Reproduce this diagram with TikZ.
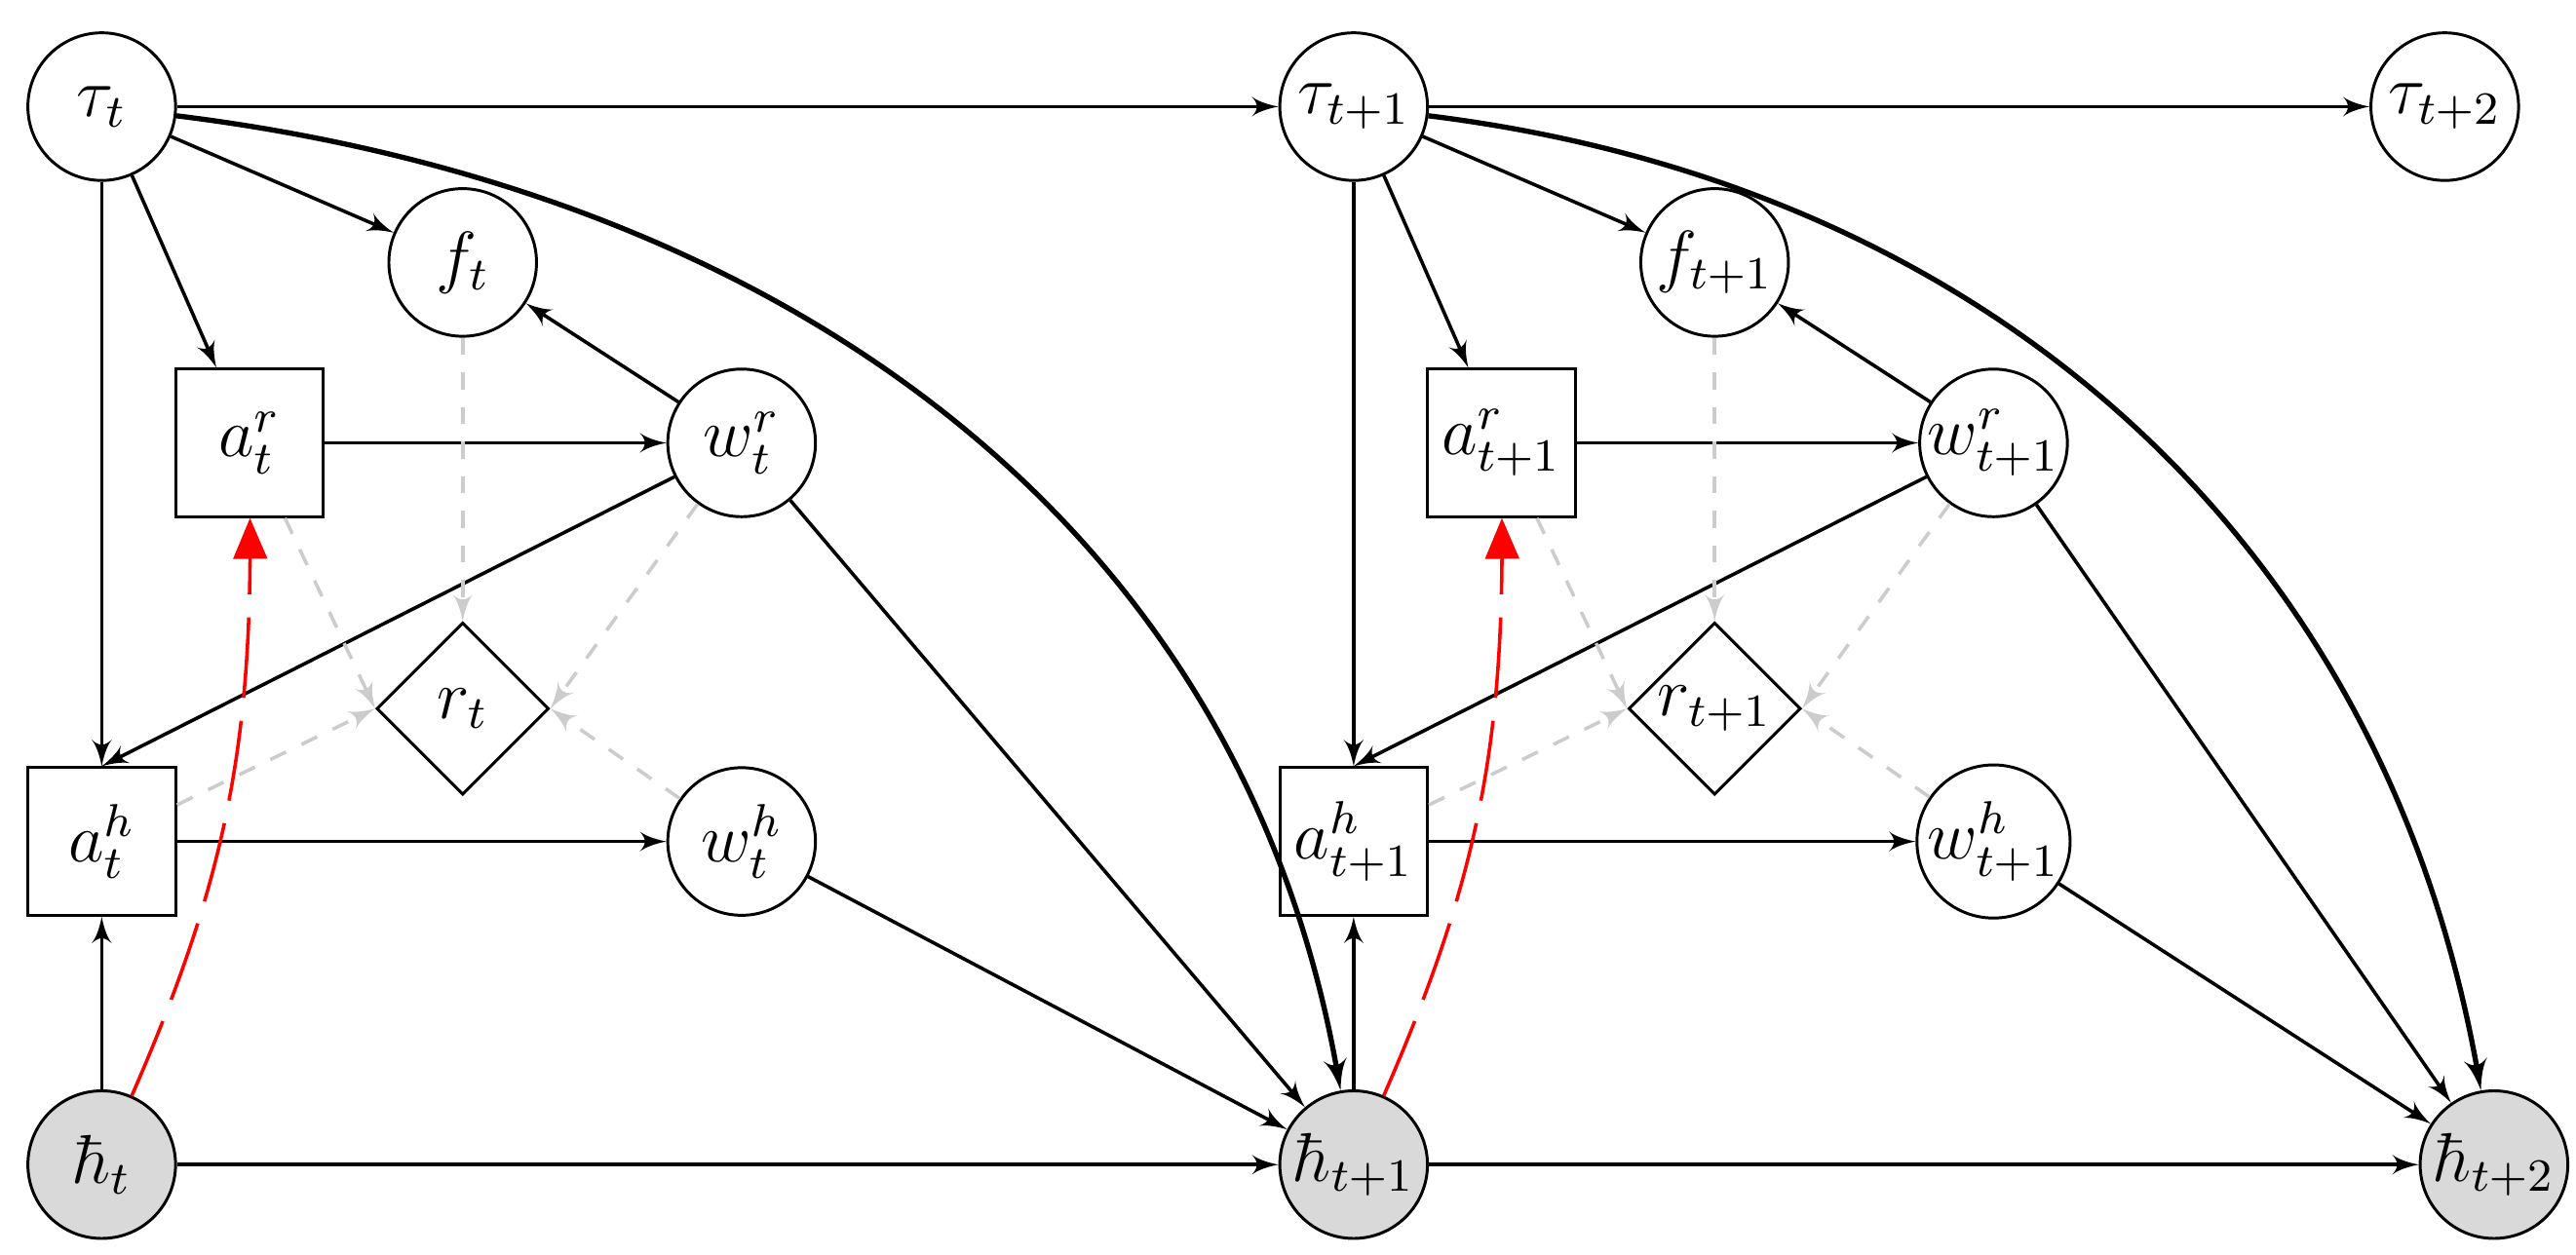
\documentclass[tikz,border=0pt]{standalone}
\usepackage{amsmath}
\usepackage{xcolor}
\usepackage{tikz}
\usetikzlibrary{shapes,arrows}
\definecolor{hidgray}{HTML}{D9D9D9}
\definecolor{dashgray}{HTML}{CCCCCC}
\tikzstyle{var} = [circle, draw, line width=0.5pt, minimum size=0.9cm, inner sep=0pt, font=\large]
\tikzstyle{hid} = [var, fill=hidgray]
\tikzstyle{act} = [rectangle, draw, line width=0.5pt, minimum size=0.9cm, inner sep=0pt, font=\large]
\tikzstyle{rew} = [diamond, draw, line width=0.5pt, minimum size=1.05cm, inner sep=0pt, font=\large]
\tikzstyle{line} = [draw, line width=0.6pt, -latex']
\tikzstyle{soft} = [draw, dashgray, dashed, line width=0.6pt, -latex']
\tikzstyle{link} = [draw, red, dash pattern=on 14pt off 4pt, line width=0.6pt, -triangle 45]

\begin{document}
\begin{tikzpicture}
        \useasboundingbox (0,0) rectangle (15.7,-7.65);
        % Place nodes
        \node [var] (tau0) at (0.62,-0.65) {$\tau_{t}$};
        \node [hid] (h0) at (0.62,-7.1) {$\hbar_{t}$};
        \node [var] (tau2) at (14.9,-0.65) {$\tau_{t+2}$};
        \node [hid] (h2) at (15.2,-7.1) {$\hbar_{t+2}$};
        \foreach \i/\x/\s in {0/0/t, 1/7.63/t+1} {
            \node [var] (f\i) at (2.82+\x,-1.6) {$f_{\s}$};
            \node [act] (ar\i) at (1.52+\x,-2.7) {$a^{r}_{\s}$};
            \node [var] (wr\i) at (4.52+\x,-2.7) {$w^{r}_{\s}$};
            \node [rew] (r\i) at (2.82+\x,-4.32) {$r_{\s}$};
            \node [act] (ah\i) at (0.62+\x,-5.13) {$a^{h}_{\s}$};
            \node [var] (wh\i) at (4.52+\x,-5.13) {$w^{h}_{\s}$};
        }
        \node [var] (tau1) at (8.25,-0.65) {$\tau_{t+1}$};
        \node [hid] (h1) at (8.25,-7.1) {$\hbar_{t+1}$};

        % Draw edges
        \foreach \i/\n in {0/1, 1/2} {
            \path [line] (tau\i) -- (tau\n);
            \path [line] (h\i) -- (h\n);
            \path [line] (tau\i) -- (f\i);
            \path [line] (tau\i) -- (ar\i);
            \path [line] (tau\i) -- (ah\i);
            \path [line] (h\i) -- (ah\i);
            \path [line] (ar\i) -- (wr\i);
            \path [line] (wr\i) -- (f\i);
            \path [line] (wr\i) -- (ah\i.north);
            \path [line] (ah\i) -- (wh\i);
            \path [line] (wr\i) -- (h\n);
            \path [line] (wh\i) -- (h\n);
            \path [line, line width=0.9pt] (tau\i) to[out=-7, in=100] (h\n);
            \path [soft] (f\i) -- (r\i);
            \path [soft] (ar\i) -- (r\i.west);
            \path [soft] (ah\i) -- (r\i.west);
            \path [soft] (wr\i) -- (r\i.east);
            \path [soft] (wh\i) -- (r\i.east);
            \path [link] (h\i) to[bend right=12] (ar\i);
        }
    \end{tikzpicture}
\end{document}
